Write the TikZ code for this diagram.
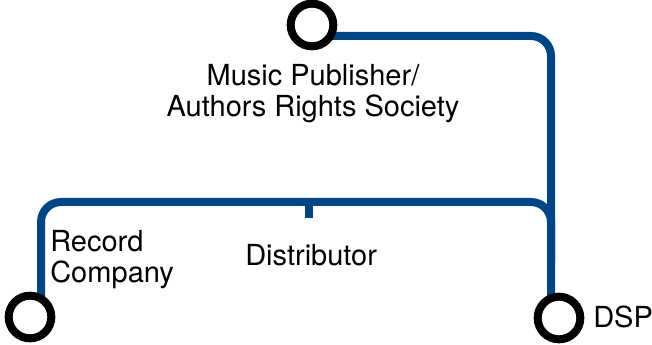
\documentclass[tikz,border=0pt]{standalone}
\usepackage{fontspec}
\setmainfont{TeX Gyre Heros}
\usetikzlibrary{calc,backgrounds}
\definecolor{linkblue}{RGB}{0,69,134}
\tikzset{
  stop/.style={circle, draw=black, fill=white, line width=6pt, minimum size=32pt, inner sep=0pt},
  link/.style={draw=linkblue, line width=6pt, rounded corners=15pt},
  lbl/.style={inner sep=0pt, font=\fontsize{21.75}{23.25}\selectfont}
}
\begin{document}
\begin{tikzpicture}[x=0.75pt, y=-0.75pt]
\useasboundingbox (0,0) rectangle (652,345);
\node[stop] (pub) at (312,25) {};
\node[stop] (rec) at (30,317) {};
\node[stop] (dsp) at (559,318) {};
\coordinate (dist) at (309,202);
\coordinate (join) at (551,262);
\begin{scope}[on background layer]
\draw[link] ($(pub.center)+(0,11)$) -| ($(dsp.center)+(-8,0)$);
\draw[link] ($(rec.center)+(11,0)$) |- (dist) -| (join);
\draw[link, rounded corners=0pt] (dist) -- ++(0,16);
\end{scope}
\node[lbl, align=center, anchor=base] (publ) at (313,117) {Music Publisher/\\Authors Rights Society};
\node[lbl, align=left, anchor=base west] (recl) at (50,282) {Record\\Company};
\node[lbl, anchor=base west] (distl) at (245,265) {Distributor};
\node[lbl, anchor=base west] (dspl) at (593,327) {DSP};
\end{tikzpicture}
\end{document}
